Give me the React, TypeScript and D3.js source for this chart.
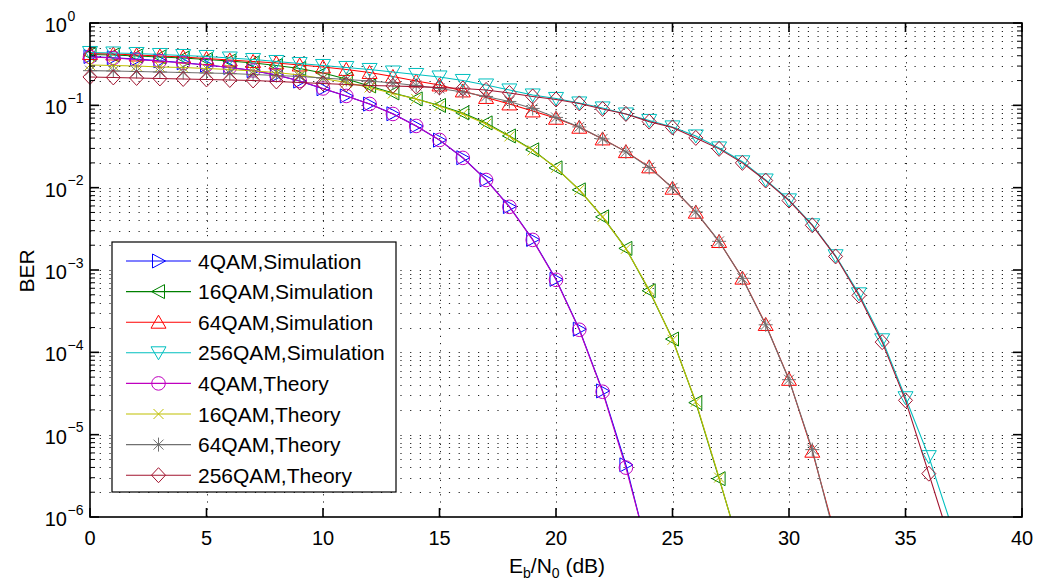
import React from 'react';
import * as d3 from 'd3';

// Eb/N0 points (dB)
const snrDb = [0, 1, 2, 3, 4, 5, 6, 7, 8, 9, 10, 11, 12, 13, 14, 15, 16, 17, 18, 19,
  20, 21, 22, 23, 24, 25, 26, 27, 28, 29, 30, 31, 32, 33, 34, 35, 36, 37];

const ber4QamSim = [0.392, 0.379, 0.364, 0.347, 0.329, 0.309, 0.288, 0.264, 0.233, 0.197,
  0.159, 0.130, 0.1035, 0.0790, 0.0560, 0.0378, 0.0231, 0.0125, 0.00590, 0.00235,
  7.7e-4, 1.91e-4, 3.4e-5, 4.3e-6, 3.3e-7];
const ber16QamSim = [0.4147, 0.4090, 0.3977, 0.3868, 0.3760, 0.3606, 0.3458, 0.3270, 0.3049, 0.2805,
  0.2472, 0.2091, 0.1720, 0.1414, 0.1196, 0.0997, 0.0809, 0.0612, 0.0425, 0.0288,
  0.0174, 0.0094, 0.00442, 0.00183, 5.6e-4, 1.45e-4, 2.45e-5, 2.92e-6, 3.3e-7];
const ber64QamSim = [0.4265, 0.4206, 0.4090, 0.3977, 0.3868, 0.3709, 0.3556, 0.3410, 0.3270, 0.3092,
  0.2924, 0.2727, 0.2507, 0.2242, 0.1977, 0.1768, 0.1496, 0.1247, 0.1040, 0.0855,
  0.0697, 0.0542, 0.0391, 0.0274, 0.0179, 0.00986, 0.00504, 0.00222, 7.97e-4, 2.18e-4,
  4.7e-5, 6.3e-6, 5.8e-7];
const ber256QamSim = [0.4385, 0.4325, 0.4265, 0.4147, 0.4033, 0.3922, 0.3760, 0.3606, 0.3410, 0.3224,
  0.3049, 0.2884, 0.2727, 0.2542, 0.2371, 0.2212, 0.2005, 0.1768, 0.1538, 0.1337,
  0.1213, 0.1069, 0.0930, 0.0786, 0.0656, 0.0547, 0.0425, 0.0304, 0.0206, 0.0124,
  0.00711, 0.00354, 0.00149, 5.14e-4, 1.42e-4, 2.81e-5, 5.41e-6, 7.4e-7];

const ber4QamTheory = [0.3868, 0.3760, 0.3606, 0.3458, 0.3270, 0.3092, 0.2884, 0.2652, 0.2339, 0.1977,
  0.1604, 0.1300, 0.1040, 0.0786, 0.0562, 0.0380, 0.0230, 0.0124, 0.00585, 0.00232,
  7.60e-4, 1.88e-4, 3.32e-5, 3.98e-6, 3.4e-7];
const ber16QamTheory = [0.3092, 0.3049, 0.3007, 0.2924, 0.2884, 0.2805, 0.2727, 0.2615, 0.2507, 0.2339,
  0.2121, 0.1896, 0.1649, 0.1394, 0.1196, 0.0983, 0.0786, 0.0595, 0.0419, 0.0284,
  0.0174, 0.00940, 0.00442, 0.00181, 5.75e-4, 1.42e-4, 2.51e-5, 3.01e-6, 3.1e-7];
const ber64QamTheory = [0.2637, 0.2615, 0.2578, 0.2542, 0.2507, 0.2472, 0.2438, 0.2371, 0.2306, 0.2242,
  0.2151, 0.2062, 0.1977, 0.1869, 0.1744, 0.1604, 0.1454, 0.1282, 0.1115, 0.0917,
  0.0713, 0.0547, 0.0391, 0.0272, 0.0176, 0.00994, 0.00508, 0.00223, 7.93e-4, 2.16e-4,
  4.65e-5, 6.58e-6, 5.3e-7];
const ber256QamTheory = [0.2212, 0.2182, 0.2151, 0.2121, 0.2091, 0.2062, 0.2033, 0.2005, 0.1950, 0.1896,
  0.1844, 0.1793, 0.1744, 0.1720, 0.1686, 0.1649, 0.1604, 0.1538, 0.1414, 0.1282,
  0.1179, 0.1055, 0.0904, 0.0786, 0.0634, 0.0539, 0.0402, 0.0296, 0.0200, 0.0122,
  0.00697, 0.00349, 0.00146, 4.90e-4, 1.33e-4, 2.61e-5, 3.36e-6, 4.25e-7];

const seriesLabels = ['4QAM,Simulation', '16QAM,Simulation', '64QAM,Simulation', '256QAM,Simulation',
  '4QAM,Theory', '16QAM,Theory', '64QAM,Theory', '256QAM,Theory'];
const seriesValues = [ber4QamSim, ber16QamSim, ber64QamSim, ber256QamSim,
  ber4QamTheory, ber16QamTheory, ber64QamTheory, ber256QamTheory];
const seriesColors = ['#0000ff', '#008000', '#ff0000', '#00bfbf', '#bf00bf', '#bfbf00', '#707070', '#a2142f'];
const seriesMarkers = ['triRight', 'triLeft', 'triUp', 'triDown', 'circle', 'cross', 'star', 'diamond'];

const xTicks = [0, 5, 10, 15, 20, 25, 30, 35, 40];
const yExponents = [0, -1, -2, -3, -4, -5, -6];

const W = 1041, H = 584;
const left = 90, right = 1022, top = 23, bottom = 517;
const font = 'Liberation Sans, Arial, Helvetica, sans-serif';

const markerPath = (type: string) => {
  switch (type) {
    case 'triRight': return 'M7,0L-6,-7L-6,7Z';
    case 'triLeft': return 'M-7,0L6,-7L6,7Z';
    case 'triUp': return 'M0,-7L7.5,6L-7.5,6Z';
    case 'triDown': return 'M0,7L7.5,-6L-7.5,-6Z';
    case 'cross': return 'M-5,-5L5,5M-5,5L5,-5';
    case 'star': return 'M-5,-5L5,5M-5,5L5,-5M0,-7L0,7M-7,0L7,0';
    case 'diamond': return 'M0,-7.5L7,0L0,7.5L-7,0Z';
    default: return '';
  }
};

const Marker = ({ type, x, y, color }: { type: string; x: number; y: number; color: string }) => {
  if (type === 'circle') {
    return <circle cx={x} cy={y} r={6.8} fill="none" stroke={color} strokeWidth={1} />;
  }
  return <path d={markerPath(type)} transform={`translate(${x},${y})`} fill="none" stroke={color} strokeWidth={1} />;
};

const App = () => {
  const xScale = d3.scaleLinear().domain([0, 40]).range([left, right]);
  const yScale = d3.scaleLog().domain([1e-6, 1]).range([bottom, top]);

  const line = d3.line<number>()
    .x((d, i) => xScale(snrDb[i]))
    .y(d => yScale(d));

  const majorY = yExponents.map(e => Math.pow(10, e));
  const minorY: number[] = [];
  yExponents.slice(0, -1).forEach(e => {
    for (let m = 2; m <= 9; m++) minorY.push(m * Math.pow(10, e - 1));
  });

  const legendX = 112, legendY = 242, legendW = 284, legendH = 250;
  const rowY = (i: number) => 261 + i * 30.6;

  return (
    <svg width={W} height={H} style={{ position: 'absolute', left: 0, top: 0, background: '#fff' }}>
      <defs>
        <clipPath id="plot-area">
          <rect x={left} y={top} width={right - left} height={bottom - top} />
        </clipPath>
      </defs>
      <rect x={0} y={0} width={W} height={H} fill="#fff" />

      {/* grid */}
      <g stroke="#222" strokeWidth={1} strokeDasharray="1.2 8.5" fill="none">
        {[...majorY, ...minorY].filter(v => v < 1 && v > 1e-6).map((v, i) => (
          <line key={'gy' + i} x1={left} x2={right} y1={Math.round(yScale(v)) + 0.5} y2={Math.round(yScale(v)) + 0.5} />
        ))}
        {xTicks.slice(1, -1).map(t => (
          <line key={'gx' + t} x1={Math.round(xScale(t)) + 0.5} x2={Math.round(xScale(t)) + 0.5} y1={bottom} y2={top} strokeDasharray="1.2 6" />
        ))}
      </g>

      {/* series */}
      {seriesValues.map((vals, s) => (
        <g key={'s' + s}>
          <path d={line(vals) || ''} fill="none" stroke={seriesColors[s]} strokeWidth={1.1} clipPath="url(#plot-area)" />
          {vals.map((v, i) => v >= 1e-6 ? (
            <Marker key={i} type={seriesMarkers[s]} x={xScale(snrDb[i])} y={yScale(v)} color={seriesColors[s]} />
          ) : null)}
        </g>
      ))}

      {/* axes box and ticks */}
      <g stroke="#000" strokeWidth={1.6} fill="none">
        <rect x={left} y={top} width={right - left} height={bottom - top} />
        {xTicks.map(t => (
          <g key={'xt' + t}>
            <line x1={xScale(t)} x2={xScale(t)} y1={bottom} y2={bottom - 9} />
            <line x1={xScale(t)} x2={xScale(t)} y1={top} y2={top + 9} />
          </g>
        ))}
        {majorY.map((v, i) => (
          <g key={'yt' + i}>
            <line x1={left} x2={left + 9} y1={yScale(v)} y2={yScale(v)} />
            <line x1={right} x2={right - 9} y1={yScale(v)} y2={yScale(v)} />
          </g>
        ))}
        {minorY.map((v, i) => (
          <g key={'ym' + i} strokeWidth={1}>
            <line x1={left} x2={left + 5} y1={yScale(v)} y2={yScale(v)} />
            <line x1={right} x2={right - 5} y1={yScale(v)} y2={yScale(v)} />
          </g>
        ))}
      </g>

      {/* tick labels */}
      <g fontFamily={font} fill="#000">
        {xTicks.map(t => (
          <text key={'xl' + t} x={xScale(t)} y={545} fontSize={20} textAnchor="middle">{t}</text>
        ))}
        {yExponents.map(e => (
          <g key={'yl' + e}>
            <text x={67} y={yScale(Math.pow(10, e)) + 9} fontSize={20} textAnchor="end">10</text>
            <text x={67.5} y={yScale(Math.pow(10, e)) - 2.5} fontSize={14}>{e === 0 ? '0' : '\u2212' + Math.abs(e)}</text>
          </g>
        ))}
        <text x={509} y={573} fontSize={21}>
          E<tspan fontSize={14} dy={5}>b</tspan><tspan dy={-5}>/N</tspan><tspan fontSize={14} dy={5}>0</tspan><tspan dy={-5}> (dB)</tspan>
        </text>
        <text transform="translate(34,271) rotate(-90)" fontSize={21} textAnchor="middle">BER</text>
      </g>

      {/* legend */}
      <g>
        <rect x={legendX} y={legendY} width={legendW} height={legendH} fill="#fff" stroke="#000" strokeWidth={1.2} />
        {seriesLabels.map((lab, i) => (
          <g key={'lg' + i}>
            <line x1={126} x2={191} y1={rowY(i)} y2={rowY(i)} stroke={seriesColors[i]} strokeWidth={1.1} />
            <Marker type={seriesMarkers[i]} x={158.5} y={rowY(i)} color={seriesColors[i]} />
            <text x={198} y={rowY(i) + 7.5} fontFamily={font} fontSize={21} fill="#000">{lab}</text>
          </g>
        ))}
      </g>
    </svg>
  );
};

export default App;
